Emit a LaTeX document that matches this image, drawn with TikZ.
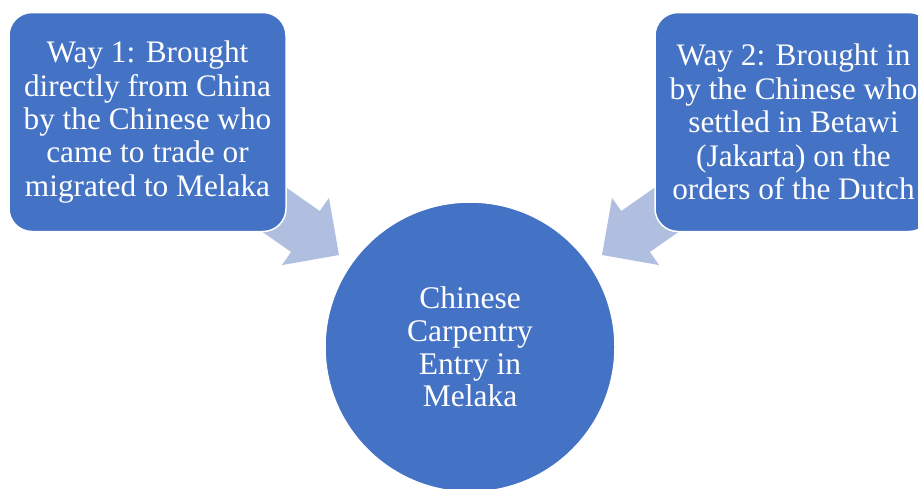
\documentclass[tikz,border=0pt]{standalone}
\usepackage{fontspec}
\setmainfont{Liberation Serif}
\definecolor{boxblue}{HTML}{4472C4}
\definecolor{arrowblue}{HTML}{B0BEE0}
\begin{document}
\begin{tikzpicture}[x=1pt,y=1pt,
  wbox/.style={rectangle, rounded corners=23pt, minimum width=277pt, minimum height=219pt,
    fill=boxblue, draw=white, line width=1.5pt, text=white, align=center,
    font=\fontsize{31.3}{33.4}\selectfont, inner sep=0pt},
  hub/.style={circle, minimum size=290pt, fill=boxblue, draw=white, line width=1.5pt,
    text=white, align=center, font=\fontsize{31.5}{32.8}\selectfont, inner sep=0pt},
  blockarrow/.style={fill=arrowblue}]
\useasboundingbox (0,0) rectangle (918,-488);
\fill[white] (0,0) rectangle (918,-488);
% block arrows (drawn first, tails hidden under boxes)
\begin{scope}[shift={(339,-255)}, rotate=-35]
  \fill[blockarrow] (0,0) -- (-41,41) -- (-41,25) -- (-112,25) -- (-112,-25) -- (-41,-25) -- (-41,-41) -- cycle;
\end{scope}
\begin{scope}[shift={(602,-255)}, rotate=215]
  \fill[blockarrow] (0,0) -- (-41,41) -- (-41,25) -- (-112,25) -- (-112,-25) -- (-41,-25) -- (-41,-41) -- cycle;
\end{scope}
\node[wbox] (way1) at (147.5,-122) {Way 1: Brought\\directly from China\\by the Chinese who\\came to trade or\\migrated to Melaka};
\node[wbox] (way2) at (793.5,-122) {Way 2: Brought in\\by the Chinese who\\settled in Betawi\\(Jakarta) on the\\orders of the Dutch};
\node[hub] (entry) at (470,-347) {Chinese\\Carpentry\\Entry in\\Melaka};
\end{tikzpicture}
\end{document}
